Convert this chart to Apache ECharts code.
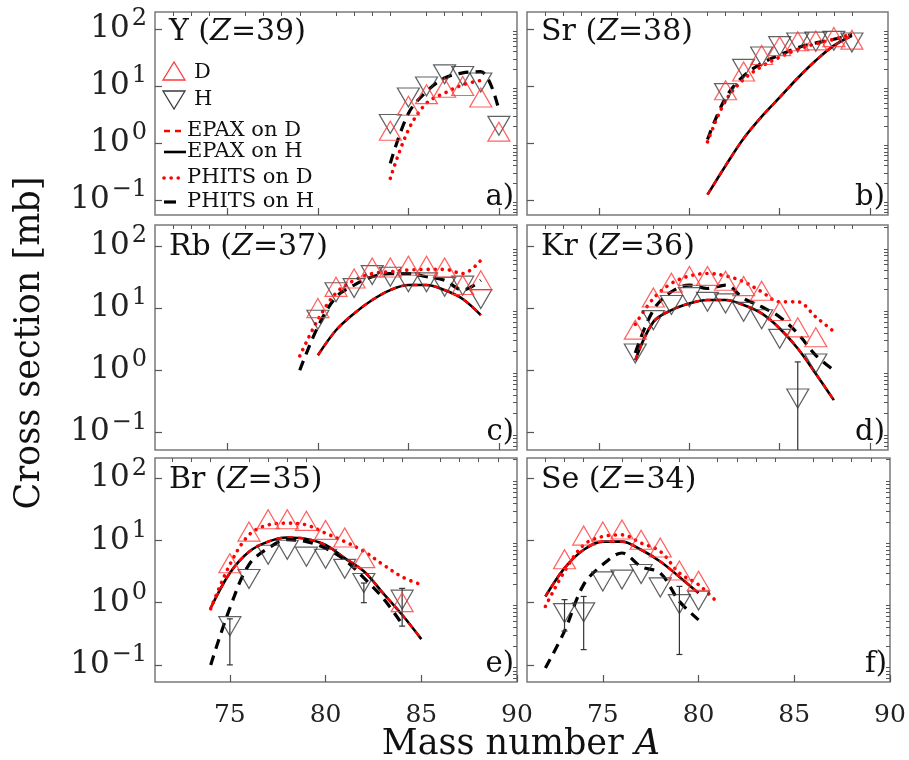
<!DOCTYPE html>
<html><head><meta charset="utf-8">
<script src="https://cdn.jsdelivr.net/npm/echarts@6/dist/echarts.min.js"></script>
<style>html,body{margin:0;padding:0;background:#fff}#c{width:909px;height:760px}</style>
</head><body><div id="c"></div>
<script>
// ---------- tick values ----------
const xTicks = [75, 80, 85, 90];
const xMinorTicks = [72, 73, 74, 76, 77, 78, 79, 81, 82, 83, 84, 86, 87, 88, 89];
const yTicks = [0.1, 1, 10, 100];
const yMinorTicks = [0.06, 0.07, 0.08, 0.09, 0.2, 0.3, 0.4, 0.5, 0.6, 0.7, 0.8, 0.9, 2, 3, 4, 5, 6, 7, 8, 9, 20, 30, 40, 50, 60, 70, 80, 90, 200];

// ---------- panel labels ----------
const elements = ['Y', 'Sr', 'Rb', 'Kr', 'Br', 'Se'];
const charges = [39, 38, 37, 36, 35, 34];
const tags = ['a)', 'b)', 'c)', 'd)', 'e)', 'f)'];

// ---------- a) Y (Z=39) ----------
const Y_A = [84, 85, 86, 87, 88, 89, 90];
const Y_D = [1.64, 4.5, 7.2, 9.3, 10, 6.3, 1.58];
const Y_H = [2.15, 6.3, 9.8, 16, 15, 11.5, 2.0];
const Y_phitsD_A = [84, 85, 86, 87, 88, 89];
const Y_phitsD = [0.24, 1.7, 5, 7.5, 10.5, 12.5];
const Y_phitsH_A = [84, 85, 86, 87, 88, 89, 90];
const Y_phitsH = [0.44, 3.3, 8, 13.8, 17, 17.8, 3.8];

// ---------- b) Sr (Z=38) ----------
const Sr_A = [82, 83, 84, 85, 86, 87, 88, 89];
const Sr_D = [8.4, 18, 35, 50, 61, 63, 72, 65];
const Sr_H = [7.5, 20, 33, 50, 58, 60, 62, 58];
const Sr_curve_A = [81, 82, 83, 84, 85, 86, 87, 88, 89];
const Sr_epaxD = [0.124, 0.4, 1.2, 2.9, 6.3, 13.8, 28, 51, 76];
const Sr_epaxH = [0.124, 0.4, 1.2, 2.9, 6.3, 13.8, 28, 51, 76];
const Sr_phitsD = [1.05, 5.5, 13, 22, 32, 44, 55, 66, 82];
const Sr_phitsH = [1.15, 6.2, 15, 25, 35, 47, 57, 66, 80];

// ---------- c) Rb (Z=37) ----------
const Rb_A = [80, 81, 82, 83, 84, 85, 86, 87, 88, 89];
const Rb_D = [10, 22, 30, 45, 45, 48, 48, 45, 23.5, 28];
const Rb_H = [6.5, 18, 21, 34, 32, 26, 26, 22, 23, 14];
const Rb_epax_A = [80, 81, 82, 83, 84, 85, 86, 87, 88, 89];
const Rb_epaxD = [1.74, 4.4, 8.2, 13.5, 19.5, 23.5, 23.5, 19.5, 14, 7.7];
const Rb_epaxH = [1.74, 4.4, 8.2, 13.5, 19.5, 23.5, 23.5, 19.5, 14, 7.7];
const Rb_phits_A = [79, 80, 81, 82, 83, 84, 85, 86, 87, 88, 89];
const Rb_phitsD = [1.7, 6.5, 17.5, 28, 36, 38.5, 41, 42, 42, 36, 59];
const Rb_phitsH = [1.0, 5.0, 15, 23.5, 32, 36, 36, 32, 28, 19.5, 28];

// ---------- d) Kr (Z=36) ----------
const Kr_A = [77, 78, 79, 80, 81, 82, 83, 84, 85, 86, 87];
const Kr_D = [4.5, 14.8, 25.7, 33, 33, 27.5, 22.6, 19, 9, 4.9, 3.4];
const Kr_H = [1.86, 6.4, 11.2, 15, 12.6, 11.9, 8.7, 6.6, 3.2, 0.35, 1.28];
const Kr_curve_A = [77, 78, 79, 80, 81, 82, 83, 84, 85, 86, 87, 88];
const Kr_epaxD = [1.45, 6.0, 9.3, 11.9, 13.5, 13.5, 11.2, 8.2, 4.7, 2.24, 0.88, 0.33];
const Kr_epaxH = [1.45, 6.0, 9.3, 11.9, 13.5, 13.5, 11.2, 8.2, 4.7, 2.24, 0.88, 0.33];
const Kr_phitsD = [5.5, 14.3, 25, 33, 36, 33, 26.6, 18.3, 12.6, 12.6, 7.2, 4.2];
const Kr_phitsH = [1.9, 9.3, 18.3, 23.5, 20.7, 23.5, 14.3, 10.5, 7.2, 3.9, 1.74, 1.0];
const Kr_err_A = [86];
const Kr_err_lo = [0.03];
const Kr_err_hi = [1.36];

// ---------- e) Br (Z=35) ----------
const Br_A = [75, 76, 77, 78, 79, 80, 81, 82, 84];
const Br_D = [4.3, 13.9, 22, 22, 20.7, 14.8, 11.2, 5.2, 1.02];
const Br_H = [0.42, 2.4, 5.9, 7.1, 5.5, 5.1, 3.5, 2.07, 1.12];
const Br_curve_A = [74, 75, 76, 77, 78, 79, 80, 81, 82, 83, 84, 85];
const Br_epaxD = [0.82, 3.0, 6.6, 9.6, 11.2, 10.6, 8.5, 5.2, 3.2, 1.43, 0.64, 0.26];
const Br_epaxH = [0.82, 3.0, 6.6, 9.6, 11.2, 10.6, 8.5, 5.2, 3.2, 1.43, 0.64, 0.26];
const Br_phitsD = [0.8, 4.1, 12.3, 17.8, 19, 17.8, 13.1, 9.6, 6.7, 4.1, 2.6, 1.95];
const Br_phitsH_A = [74, 75, 76, 77, 78, 79, 80, 81, 82, 83, 84];
const Br_phitsH = [0.1, 0.82, 4.1, 7.5, 10.3, 9.6, 7.5, 4.9, 2.5, 1.19, 0.45];
const Br_err_A = [75, 82, 84];
const Br_err_lo = [0.1, 1.0, 0.42];
const Br_err_hi = [0.55, 2.07, 1.7];

// ---------- f) Se (Z=34) ----------
const Se_A = [73, 74, 75, 76, 77, 78, 79, 80];
const Se_D = [5.0, 12, 13.9, 15, 10.3, 7.7, 3.3, 2.25];
const Se_H = [0.68, 0.7, 2.2, 2.35, 2.9, 1.76, 0.95, 1.08];
const Se_epax_A = [72, 73, 74, 75, 76, 77, 78, 79, 80];
const Se_epaxD = [1.26, 3.6, 7.1, 9.6, 9.6, 7.1, 4.6, 2.6, 1.43];
const Se_epaxH = [1.26, 3.6, 7.1, 9.6, 9.6, 7.1, 4.6, 2.6, 1.43];
const Se_phitsD_A = [72, 73, 74, 75, 76, 77, 78, 79, 80, 81];
const Se_phitsD = [0.87, 3.2, 8.5, 11.6, 12.3, 9.1, 6.7, 3.0, 1.95, 1.0];
const Se_phitsH_A = [72, 73, 74, 75, 76, 77, 78, 79, 80];
const Se_phitsH = [0.089, 0.35, 1.95, 4.1, 6.3, 3.8, 3.0, 1.05, 0.53];
const Se_err_A = [73, 74, 79];
const Se_err_lo = [0.35, 0.176, 0.147];
const Se_err_hi = [1.12, 1.26, 1.83];

// ---------- build ----------
const FONT = 'DejaVu Serif';
const RED = '#ff0000';
const TRI_RED = '#ff3a3a';
const TRI_GRAY = '#3a3a3a';
const FRAME = '#7a7a7a';

const zip = (a, v) => a.map((x, i) => [x, v[i]]);

const panels = [
  { dA: Y_A, d: Y_D, hA: Y_A, h: Y_H, pdA: Y_phitsD_A, pd: Y_phitsD, phA: Y_phitsH_A, ph: Y_phitsH },
  { dA: Sr_A, d: Sr_D, hA: Sr_A, h: Sr_H, eA: Sr_curve_A, ed: Sr_epaxD, eh: Sr_epaxH, pdA: Sr_curve_A, pd: Sr_phitsD, phA: Sr_curve_A, ph: Sr_phitsH },
  { dA: Rb_A, d: Rb_D, hA: Rb_A, h: Rb_H, eA: Rb_epax_A, ed: Rb_epaxD, eh: Rb_epaxH, pdA: Rb_phits_A, pd: Rb_phitsD, phA: Rb_phits_A, ph: Rb_phitsH },
  { dA: Kr_A, d: Kr_D, hA: Kr_A, h: Kr_H, eA: Kr_curve_A, ed: Kr_epaxD, eh: Kr_epaxH, pdA: Kr_curve_A, pd: Kr_phitsD, phA: Kr_curve_A, ph: Kr_phitsH, errA: Kr_err_A, errLo: Kr_err_lo, errHi: Kr_err_hi },
  { dA: Br_A, d: Br_D, hA: Br_A, h: Br_H, eA: Br_curve_A, ed: Br_epaxD, eh: Br_epaxH, pdA: Br_curve_A, pd: Br_phitsD, phA: Br_phitsH_A, ph: Br_phitsH, errA: Br_err_A, errLo: Br_err_lo, errHi: Br_err_hi },
  { dA: Se_A, d: Se_D, hA: Se_A, h: Se_H, eA: Se_epax_A, ed: Se_epaxD, eh: Se_epaxH, pdA: Se_phitsD_A, pd: Se_phitsD, phA: Se_phitsH_A, ph: Se_phitsH, errA: Se_err_A, errLo: Se_err_lo, errHi: Se_err_hi }
];

const gridBoxes = [
  { left: 155, top: 12, width: 362, height: 203 },
  { left: 527, top: 12, width: 361, height: 203 },
  { left: 155, top: 225, width: 362, height: 225 },
  { left: 527, top: 225, width: 361, height: 225 },
  { left: 155, top: 458, width: 362, height: 224 },
  { left: 527, top: 458, width: 363, height: 224 }
];
const xRanges = [[71, 91], [71, 91], [71, 91], [71, 91], [71.09, 90], [71.04, 90]];
const yRanges = [[0.0546, 198.6], [0.0546, 198.6], [0.0519, 217.8], [0.0519, 217.8], [0.0531, 212], [0.0531, 212]];

const grid = [], xAxis = [], yAxis = [], series = [], graphic = [];

function supLabel(v) {
  const e = Math.round(Math.log10(v));
  return '{b|10}{s|' + (e < 0 ? '\u2212' + (-e) : e) + '}';
}

panels.forEach((p, i) => {
  const g = gridBoxes[i];
  const isLeft = i % 2 === 0;
  const isBottom = i >= 4;
  grid.push(Object.assign({ show: true, borderColor: FRAME, borderWidth: 1.5, backgroundColor: 'transparent' }, g));
  const xr = xRanges[i], yr = yRanges[i];
  xAxis.push({
    type: 'value', gridIndex: i, min: xr[0], max: xr[1],
    axisLine: { show: false }, splitLine: { show: false },
    axisTick: { show: true, inside: true, length: 7, customValues: xTicks, lineStyle: { color: '#555', width: 1.2 } },
    axisLabel: { show: isBottom, customValues: xTicks, fontFamily: FONT, fontSize: 25, color: '#222', margin: 21 }
  });
  xAxis.push({
    type: 'value', gridIndex: i, min: xr[0], max: xr[1],
    axisLine: { show: false }, splitLine: { show: false },
    axisTick: { show: true, inside: true, length: 4, customValues: xMinorTicks, lineStyle: { color: '#555', width: 1 } },
    axisLabel: { show: false }
  });
  yAxis.push({
    type: 'log', logBase: 10, gridIndex: i, min: yr[0], max: yr[1],
    axisLine: { show: false }, splitLine: { show: false },
    axisTick: { show: true, inside: true, length: 7, customValues: yTicks, lineStyle: { color: '#555', width: 1.2 } },
    axisLabel: {
      show: isLeft, customValues: yTicks, margin: 8,
      formatter: supLabel,
      rich: {
        b: { fontFamily: FONT, fontSize: 31, color: '#222', lineHeight: 44 },
        s: { fontFamily: FONT, fontSize: 24, color: '#222', lineHeight: 20, verticalAlign: 'top', padding: [0, 0, 0, 2] }
      }
    }
  });
  yAxis.push({
    type: 'log', logBase: 10, gridIndex: i, min: yr[0], max: yr[1],
    axisLine: { show: false }, splitLine: { show: false },
    axisTick: { show: true, inside: true, length: 4, customValues: yMinorTicks, lineStyle: { color: '#555', width: 1 } },
    axisLabel: { show: false }
  });
  const xi = 2 * i, yi = 2 * i;
  const base = { xAxisIndex: xi, yAxisIndex: yi, animation: false, silent: true };
  if (p.eA) {
    series.push(Object.assign({ type: 'line', name: 'EPAX on H', data: zip(p.eA, p.eh), symbol: 'none', smooth: 0.35,
      lineStyle: { color: '#000', width: 2.6 }, z: 3 }, base));
    series.push(Object.assign({ type: 'line', name: 'EPAX on D', data: zip(p.eA, p.ed), symbol: 'none', smooth: 0.35,
      lineStyle: { color: RED, width: 2.4, type: [6, 5] }, z: 4 }, base));
  }
  series.push(Object.assign({ type: 'line', name: 'PHITS on H', data: zip(p.phA, p.ph), symbol: 'none', smooth: 0.35,
    lineStyle: { color: '#000', width: 3.2, type: [10, 7] }, z: 5 }, base));
  series.push(Object.assign({ type: 'line', name: 'PHITS on D', data: zip(p.pdA, p.pd), symbol: 'none', smooth: 0.35,
    lineStyle: { color: RED, width: 3.6, type: [0.1, 7], cap: 'round' }, z: 6 }, base));
  if (p.errA) {
    series.push(Object.assign({
      type: 'custom', clip: true, z: 7,
      data: p.errA.map((a, k) => [a, p.errLo[k], p.errHi[k]]),
      renderItem: (params, api) => {
        const top = api.coord([api.value(0), api.value(2)]);
        const bot = api.coord([api.value(0), api.value(1)]);
        const st = { stroke: '#333', lineWidth: 1.2 };
        return { type: 'group', children: [
          { type: 'line', shape: { x1: top[0], y1: top[1], x2: bot[0], y2: bot[1] }, style: st },
          { type: 'line', shape: { x1: top[0] - 3, y1: top[1], x2: top[0] + 3, y2: top[1] }, style: st },
          { type: 'line', shape: { x1: bot[0] - 3, y1: bot[1], x2: bot[0] + 3, y2: bot[1] }, style: st }
        ] };
      }
    }, base));
  }
  series.push(Object.assign({ type: 'scatter', name: 'H', data: zip(p.hA, p.h), symbol: 'triangle', symbolRotate: 180,
    symbolSize: [22, 19], itemStyle: { color: 'rgba(0,0,0,0)', borderColor: TRI_GRAY, borderWidth: 1.2 }, z: 8 }, base));
  series.push(Object.assign({ type: 'scatter', name: 'D', data: zip(p.dA, p.d), symbol: 'triangle',
    symbolSize: [22, 19], itemStyle: { color: 'rgba(0,0,0,0)', borderColor: TRI_RED, borderWidth: 1.2 }, z: 9 }, base));

  // panel title and tag
  graphic.push({ type: 'text', x: g.left + 14, y: g.top + (i < 2 ? 20 : 22), z: 20,
    style: { text: elements[i] + ' ({i|Z}=' + charges[i] + ')', fontFamily: FONT, fontSize: 30, fill: '#111',
      verticalAlign: 'middle', align: 'left', rich: { i: { fontFamily: FONT, fontSize: 30, fontStyle: 'italic', fill: '#111' } } } });
  graphic.push({ type: 'text', x: g.left + g.width - 3, y: g.top + g.height - 18, z: 20,
    style: { text: tags[i], fontFamily: FONT, fontSize: 29, fill: '#111', align: 'right', verticalAlign: 'middle' } });
});

// axis titles
graphic.push({ type: 'text', x: 30, y: 343, rotation: Math.PI / 2, z: 20,
  style: { text: 'Cross section [mb]', fontFamily: FONT, fontSize: 35, fill: '#111', align: 'center', verticalAlign: 'middle' } });
graphic.push({ type: 'text', x: 521, y: 745, z: 20,
  style: { text: 'Mass number {i|A}', fontFamily: FONT, fontSize: 35, fill: '#111', align: 'center', verticalAlign: 'middle',
    rich: { i: { fontFamily: FONT, fontSize: 35, fontStyle: 'italic', fill: '#111' } } } });

// legend (panel a)
const LF = 21;
graphic.push({ type: 'polygon', z: 20, shape: { points: [[163, 80], [185, 80], [174, 62]] }, style: { fill: 'none', stroke: TRI_RED, lineWidth: 1.3 } });
graphic.push({ type: 'text', x: 194, y: 73, z: 20, style: { text: 'D', fontFamily: FONT, fontSize: LF, fill: '#111', verticalAlign: 'middle' } });
graphic.push({ type: 'polygon', z: 20, shape: { points: [[163, 91], [185, 91], [174, 109]] }, style: { fill: 'none', stroke: TRI_GRAY, lineWidth: 1.3 } });
graphic.push({ type: 'text', x: 194, y: 100, z: 20, style: { text: 'H', fontFamily: FONT, fontSize: LF, fill: '#111', verticalAlign: 'middle' } });
const legLines = [
  { y: 131, text: 'EPAX on D', stroke: RED, w: 2.4, dash: [6, 5], cap: 'butt', x2: 186 },
  { y: 152, text: 'EPAX on H', stroke: '#000', w: 2.6, dash: null, cap: 'butt', x2: 186 },
  { y: 178, text: 'PHITS on D', stroke: RED, w: 3.6, dash: [0.1, 7], cap: 'round', x2: 183 },
  { y: 202, text: 'PHITS on H', stroke: '#000', w: 3.2, dash: [12, 7], cap: 'butt', x2: 182 }
];
legLines.forEach(l => {
  graphic.push({ type: 'line', z: 20, shape: { x1: 164, y1: l.y, x2: l.x2, y2: l.y },
    style: { stroke: l.stroke, lineWidth: l.w, lineDash: l.dash, lineCap: l.cap } });
  graphic.push({ type: 'text', x: 187, y: l.y, z: 20, style: { text: l.text, fontFamily: FONT, fontSize: LF, fill: '#111', verticalAlign: 'middle' } });
});

const chart = echarts.init(document.getElementById('c'), null, { renderer: 'canvas' });
chart.setOption({ animation: false, backgroundColor: '#fff', grid, xAxis, yAxis, series, graphic });
</script>
</body></html>
